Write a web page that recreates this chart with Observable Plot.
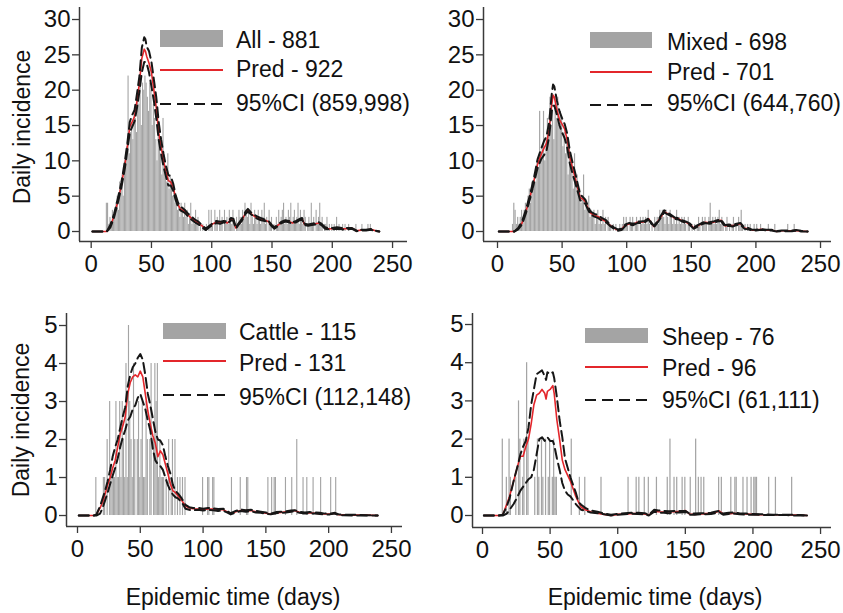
<!DOCTYPE html>
<html>
<head>
<meta charset="utf-8">
<script src="https://cdn.jsdelivr.net/npm/d3@7"></script>
<script src="https://cdn.jsdelivr.net/npm/@observablehq/plot@0.6"></script>
<style>
  body { margin: 0; background: #fff; }
  #chart { position: relative; width: 843px; height: 613px; overflow: hidden; background: #fff;
           font-family: "Liberation Sans", Arial, sans-serif; }
  #chart > svg { position: absolute; left: 0; top: 0; }
</style>
</head>
<body>
<div id="chart"></div>
<script>
// ---------------- DATA ----------------
const xTicks = [0, 50, 100, 150, 200, 250];
const yTicksTop = [0, 5, 10, 15, 20, 25, 30];
const yTicksBottom = [0, 1, 2, 3, 4, 5];

// Observed daily cases (All), starting at day 12
const allBarStart = 12;
const allBars = [
  0,4,4,1,2,1,3,2,3,4,
  5,3,7,6,8,5,10,9,12,22,
  11,14,15,13,17,16,14,20,18,21,
  15,21,20,22,21,19,17,21,20,15,
  18,16,13,10,14,12,11,8,16,10,
  9,7,11,6,8,7,5,6,4,5,
  3,4,2,4,3,2,4,2,3,1,
  2,4,1,2,1,3,1,2,0,1,
  0,1,0,0,1,0,3,1,3,1,
  0,3,1,2,0,3,1,2,0,3,
  1,2,1,3,2,1,3,1,0,2,
  1,3,2,1,3,2,4,3,2,3,
  1,4,2,1,3,2,1,3,2,1,
  3,2,4,1,2,0,3,1,2,0,
  1,0,2,1,3,1,2,3,4,1,
  2,1,3,2,4,1,2,3,1,2,
  4,1,3,2,1,3,2,0,1,2,
  1,4,1,2,0,3,1,2,4,1,
  2,0,1,1,2,0,1,0,1,0,
  1,0,2,0,1,0,0,1,0,1,
  0,0,1,0,0,0,0,0,1,0,
  0,0,0,1,0,0,0,0,1,0,
  1
];

// Observed daily cases (Mixed), starting at day 12
const mixedBarStart = 12;
const mixedBars = [
  1,4,3,1,2,1,2,3,2,3,
  4,3,5,6,4,7,6,8,7,10,
  9,17,11,12,17,10,13,16,14,19,
  15,17,13,18,16,19,15,17,16,12,
  14,11,13,8,12,9,10,6,11,7,
  8,5,6,4,5,8,3,4,3,5,
  2,3,2,3,1,2,3,1,2,1,
  3,1,2,0,2,1,1,0,1,0,
  1,0,0,1,0,1,2,1,2,1,
  0,2,1,2,0,1,2,1,0,2,
  1,2,1,2,1,3,1,0,1,0,
  2,1,2,1,3,2,3,2,1,3,
  2,1,3,2,1,2,1,3,1,2,
  1,2,1,2,1,0,2,1,0,1,
  0,1,0,1,2,1,0,2,1,2,
  1,0,2,4,1,2,1,2,1,2,
  3,1,2,1,0,1,2,0,1,0,
  1,2,0,1,0,2,1,3,1,0,
  1,0,1,0,1,0,0,1,0,1,
  0,0,1,0,0,0,0,0,1,0,
  0,0,0,1,0,0,0,0,0,0,
  0,0,0,1,0,0,0,0,1,0
];

// Observed daily cases (Cattle): days with cases and counts
const cattleDays = [15,21,22,24,26,27,28,29,30,31,32,33,34,35,36,37,38,39,40,41,42,43,44,45,46,48,49,50,
  51,52,53,54,55,56,58,59,61,62,63,64,65,66,67,68,69,71,73,75,76,78,80,82,84,86,
  100,104,105,108,109,123,130,135,136,152,155,157,158,166,171,175,180,183,188,194,202,206];
const cattleCounts = [1,1,1,2,3,1,1,1,1,3,1,1,3,1,3,2,1,4,1,5,3,2,1,4,2,2,3,1,
  2,3,1,1,3,2,2,4,2,4,3,4,1,2,1,1,1,1,2,1,2,2,1,1,1,1,
  1,1,1,1,1,1,1,1,1,1,1,1,1,1,1,2,1,1,1,1,1,1];

// Observed daily cases (Sheep): days with cases and counts
const sheepDays = [15,18,20,21,25,27,28,30,31,33,34,39,41,42,44,45,47,49,50,52,53,54,55,66,72,76,88,
  108,114,116,120,123,129,137,139,142,144,148,150,154,158,160,162,164,175,177,184,187,188,193,196,199,
  201,202,203,212,217,229];
const sheepCounts = [2,1,2,1,1,3,2,1,2,4,2,1,2,1,2,1,2,1,2,1,2,1,1,2,1,1,1,
  1,1,1,1,1,1,1,2,1,1,1,1,1,2,1,1,1,1,1,1,1,1,1,1,1,
  1,1,1,1,1,1];

// Predicted incidence: [day, lower 95% CI, prediction, upper 95% CI]
const allLines = [
  [1,0,0,0],[13,0,0,0],[16,0.6,0.8,1.0],[19,2.0,2.2,2.5],[22,4.0,4.2,4.6],[25,6.2,6.5,6.9],
  [28,9.0,9.5,10.0],[30,11.5,12,12.5],[32,14.0,14.8,15.5],[34,14.8,15.5,16.5],[36,15.6,16.3,17.2],
  [38,17.5,18.5,19.5],[40,19.8,21,22],[42,22.5,24.5,26],[44,24,25.8,27.5],[45,24,25.5,27.2],
  [46,23.8,24.8,26.2],[48,22.5,23.8,25.5],[50,20.5,22.5,24],[52,18.5,20,21.5],[54,16,17.5,19],
  [56,13,14,15.5],[58,11,12,13],[60,9.2,10,11],[62,7.8,8.5,9.3],[64,6.5,7.2,8],[66,6.5,7,7.8],
  [68,5.8,6.3,6.8],[70,4.5,4.8,5.2],[72,3.5,3.8,4.1],[74,3.0,3.2,3.5],[76,2.8,3.0,3.3],[78,2.6,2.8,3.0],
  [80,2.2,2.4,2.6],[83,1.7,1.9,2.1],[86,1.3,1.5,1.7],[89,1.0,1.2,1.4],[92,0.6,0.8,0.9],[95,0.2,0.3,0.4],
  [98,0.6,0.7,0.8],[101,1.0,1.1,1.2],[104,1.2,1.3,1.5],[107,1.1,1.2,1.4],[110,1.3,1.4,1.5],
  [113,1.1,1.2,1.4],[116,1.6,1.7,1.9],[118,1.5,1.6,1.8],[120,0.4,0.5,0.6],[122,0.9,1.0,1.1],
  [125,1.5,1.6,1.8],[128,2.5,2.6,2.8],[130,2.8,3.0,3.2],[132,2.5,2.6,2.8],[135,2.1,2.2,2.4],
  [138,1.8,1.9,2.1],[141,1.6,1.7,1.9],[144,1.5,1.6,1.7],[147,1.3,1.4,1.5],[150,0.7,0.8,0.9],
  [152,0.4,0.5,0.6],[155,0.8,0.9,1.0],[158,1.2,1.3,1.4],[161,1.4,1.5,1.6],[164,1.3,1.4,1.5],
  [167,1.1,1.2,1.3],[170,1.3,1.4,1.5],[173,1.6,1.7,1.8],[175,1.7,1.8,1.9],[177,0.9,1.0,1.1],
  [180,0.8,0.9,1.0],[183,0.9,1.0,1.1],[186,1.0,1.1,1.2],[189,1.1,1.2,1.3],[191,0.9,1.0,1.1],
  [194,0.4,0.5,0.6],[197,0.3,0.4,0.5],[200,0.3,0.4,0.5],[204,0.4,0.5,0.6],[208,0.3,0.4,0.5],
  [212,0.3,0.4,0.5],[216,0.4,0.5,0.5],[220,0.05,0.1,0.15],[224,0.15,0.2,0.25],[228,0.15,0.2,0.25],
  [232,0.25,0.3,0.35],[236,0.05,0.1,0.1],[239,0,0,0]
];
const mixedLines = [
  [1,0,0,0],[13,0,0,0],[16,0.3,0.4,0.5],[19,1.0,1.2,1.4],[22,2.6,2.8,3.1],[25,4.5,4.8,5.1],
  [28,6.7,7,7.4],[31,9.0,9.5,10.2],[34,10.3,11,11.8],[36,10.8,11.8,12.8],[38,11.5,12.5,13.5],
  [40,13.5,14.5,15.5],[42,17,18,19.5],[43,17.8,19.3,20.8],[44,17.8,19,20.5],[46,16.5,17.2,18.5],
  [48,15,15.8,17],[50,14,15.2,16],[52,13.2,14.5,15.2],[54,11.8,12.9,13.8],[56,9.6,10.5,11.4],
  [58,8.2,9,9.8],[60,7,7.7,8.4],[62,5.7,6.2,6.8],[64,4.4,4.8,5.2],[66,4.3,4.6,4.9],[68,3.9,4.2,4.5],
  [70,3.1,3.3,3.6],[72,2.4,2.6,2.8],[75,2.1,2.3,2.5],[78,1.9,2.1,2.3],[81,1.5,1.7,1.9],[84,1.3,1.4,1.6],
  [87,0.8,0.9,1.0],[90,0.4,0.5,0.6],[93,0.1,0.2,0.3],[96,0.2,0.3,0.4],[99,0.8,0.9,1.0],[102,1.0,1.1,1.2],
  [105,0.9,1.0,1.1],[108,1.2,1.3,1.4],[111,1.2,1.3,1.4],[114,1.3,1.4,1.5],[117,1.7,1.8,1.9],
  [119,1.1,1.2,1.3],[121,0.6,0.7,0.8],[124,1.3,1.4,1.5],[127,2.1,2.2,2.4],[129,2.7,2.8,3.0],
  [131,2.5,2.6,2.8],[134,2.2,2.3,2.4],[137,1.8,1.9,2.0],[140,1.7,1.8,1.9],[143,1.4,1.5,1.6],
  [146,1.2,1.3,1.4],[149,0.9,1.0,1.1],[152,0.4,0.5,0.6],[155,0.7,0.8,0.9],[158,1.0,1.1,1.2],
  [161,1.2,1.3,1.4],[164,1.1,1.2,1.3],[167,1.2,1.3,1.4],[170,1.4,1.5,1.6],[173,1.5,1.6,1.7],
  [176,0.7,0.8,0.9],[179,0.8,0.9,1.0],[182,0.7,0.8,0.9],[185,0.9,1.0,1.1],[188,1.0,1.1,1.2],
  [191,0.4,0.5,0.6],[194,0.3,0.4,0.5],[197,0.15,0.2,0.25],[200,0.15,0.2,0.25],[204,0.25,0.3,0.35],
  [208,0.15,0.2,0.25],[212,0.15,0.2,0.25],[216,0,0,0.05],[220,0.05,0.1,0.15],[224,0.05,0.1,0.15],
  [228,0.05,0.1,0.15],[231,0.1,0.15,0.2],[235,0,0.05,0.1],[240,0,0,0]
];
const cattleLines = [
  [1,0,0,0],[13,0,0,0],[15,0,0.02,0.02],[18,0.05,0.2,0.25],[20,0.2,0.35,0.45],[22,0.4,0.57,0.65],
  [24,0.6,0.8,0.9],[26,0.83,1.0,1.2],[28,1.05,1.25,1.55],[30,1.25,1.45,1.8],[32,1.5,1.8,2.0],
  [34,1.8,2.15,2.3],[36,2.05,2.35,2.6],[38,2.25,2.6,2.85],[40,2.5,3.2,3.4],[42,2.6,3.5,3.7],
  [44,2.8,3.65,3.9],[46,2.9,3.7,4.0],[48,3.1,3.65,4.15],[50,3.2,3.8,4.25],[52,3.0,3.65,4.1],
  [54,2.8,3.2,3.7],[56,2.5,2.75,3.2],[58,2.24,2.4,2.9],[60,1.75,2.1,2.55],[62,1.45,1.9,2.2],
  [64,1.35,1.55,2.0],[66,1.3,1.7,1.97],[68,1.2,1.6,1.85],[70,1.0,1.35,1.55],[72,0.8,1.1,1.3],
  [74,0.65,0.83,1.1],[76,0.55,0.65,0.8],[78,0.48,0.6,0.65],[80,0.45,0.52,0.58],[83,0.35,0.4,0.45],
  [86,0.18,0.25,0.28],[89,0.15,0.2,0.22],[92,0.14,0.18,0.2],[96,0.15,0.17,0.2],[100,0.13,0.16,0.18],
  [104,0.15,0.17,0.2],[108,0.14,0.17,0.19],[112,0.12,0.15,0.17],[116,0.13,0.15,0.18],[119,0.08,0.1,0.12],
  [122,0.03,0.05,0.06],[126,0.08,0.1,0.12],[130,0.12,0.13,0.16],[134,0.1,0.13,0.14],[138,0.11,0.13,0.15],
  [142,0.08,0.1,0.12],[146,0.07,0.09,0.1],[150,0.05,0.06,0.08],[154,0.03,0.04,0.05],[158,0.06,0.07,0.09],
  [162,0.07,0.08,0.1],[166,0.08,0.1,0.11],[170,0.1,0.11,0.13],[173,0.11,0.13,0.14],[177,0.07,0.08,0.1],
  [181,0.05,0.07,0.08],[185,0.06,0.07,0.09],[189,0.05,0.06,0.08],[193,0.04,0.05,0.07],[197,0.03,0.04,0.05],
  [201,0.03,0.04,0.05],[205,0.05,0.06,0.07],[208,0.01,0.02,0.03],[212,0.01,0.02,0.02],[220,0,0.01,0.02],
  [230,0,0.01,0.01],[239,0,0,0]
];
const sheepLines = [
  [1,0,0,0],[12,0,0,0],[15,0,0.02,0.02],[18,0.05,0.3,0.25],[20,0.15,0.5,0.45],[23,0.3,0.9,0.9],
  [26,0.5,1.3,1.3],[28,0.65,1.55,1.6],[30,0.75,1.55,1.8],[32,0.85,1.8,1.95],[34,0.95,2.0,2.3],
  [36,1.0,2.4,2.9],[38,1.2,2.9,3.3],[40,1.6,3.15,3.7],[42,2.0,3.2,3.75],[44,2.05,3.3,3.8],
  [46,1.95,3.2,3.65],[47,2.0,3.05,3.55],[48,2.05,3.25,3.75],[50,1.95,3.3,3.7],[52,1.95,3.4,3.75],
  [53,1.85,3.2,3.6],[55,1.5,2.5,3.1],[57,1.2,2.0,2.5],[59,0.85,1.45,2.05],[61,0.65,1.2,1.5],
  [63,0.55,1.05,1.25],[65,0.5,0.9,1.0],[67,0.4,0.7,0.8],[69,0.3,0.5,0.6],[71,0.22,0.35,0.35],
  [73,0.15,0.22,0.28],[76,0.12,0.15,0.2],[80,0.08,0.1,0.13],[85,0.06,0.06,0.1],[90,0.03,0.03,0.05],
  [95,0,0,0.02],[100,0.02,0.03,0.04],[105,0.03,0.04,0.06],[110,0.05,0.05,0.07],[115,0.04,0.05,0.07],
  [120,0.03,0.04,0.06],[123,0,0.01,0.02],[127,0.1,0.12,0.15],[130,0.08,0.1,0.13],[134,0.07,0.09,0.12],
  [138,0.06,0.1,0.11],[142,0.08,0.1,0.12],[146,0.08,0.11,0.12],[150,0.09,0.13,0.12],[153,0.02,0.04,0.05],
  [157,0.02,0.03,0.05],[161,0.03,0.04,0.06],[165,0.03,0.05,0.06],[169,0.04,0.06,0.07],[172,0.06,0.08,0.1],
  [175,0.09,0.12,0.12],[178,0.02,0.04,0.05],[182,0.04,0.05,0.07],[186,0.05,0.06,0.08],[190,0.03,0.04,0.06],
  [195,0.02,0.04,0.05],[200,0.02,0.03,0.04],[205,0.02,0.02,0.03],[210,0.01,0.02,0.03],[215,0.01,0.02,0.02],
  [220,0.01,0.02,0.02],[225,0.01,0.02,0.02],[230,0,0.01,0.02],[235,0,0.01,0.01],[240,0,0,0]
];

// Legend texts
const legendLabels = [
  ["All - 881", "Pred - 922", "95%CI (859,998)"],
  ["Mixed - 698", "Pred - 701", "95%CI (644,760)"],
  ["Cattle - 115", "Pred - 131", "95%CI (112,148)"],
  ["Sheep - 76", "Pred - 96", "95%CI (61,111)"]
];
const yTitle = "Daily incidence";
const xTitle = "Epidemic time (days)";

// ---------------- STYLE / LAYOUT ----------------
const W = 843, H = 613;
const FONT = '"Liberation Sans", Arial, Helvetica, sans-serif';
const BAR = "#a4a4a4", RED = "#e3262b", INK = "#161616", AXIS = "#3a3a3a";

function fromStart(start, arr) { return arr.map((n, i) => ({day: start + i, n})); }
function fromSparse(days, counts) { return days.map((d, i) => ({day: d, n: counts[i]})); }
function rows(lines) { return lines.map(([day, lo, pr, hi]) => ({day, lo, pr, hi})); }

const panels = [
  {bars: fromStart(allBarStart, allBars), lines: rows(allLines),
   frame: {left: 79, right: 407, top: 7, bottom: 241}, x: [-9.7, 262.4], y: [-1.415, 31.7], yTicks: yTicksTop},
  {bars: fromStart(mixedBarStart, mixedBars), lines: rows(mixedLines),
   frame: {left: 483, right: 831, top: 7, bottom: 241}, x: [-10.84, 258.5], y: [-1.415, 31.7], yTicks: yTicksTop},
  {bars: fromSparse(cattleDays, cattleCounts), lines: rows(cattleLines),
   frame: {left: 66, right: 402, top: 313, bottom: 526}, x: [-8.76, 258.8], y: [-0.289, 5.316], yTicks: yTicksBottom},
  {bars: fromSparse(sheepDays, sheepCounts), lines: rows(sheepLines),
   frame: {left: 472, right: 831, top: 313, bottom: 527}, x: [-7.4, 258.1], y: [-0.314, 5.288], yTicks: yTicksBottom}
];

const chart = document.getElementById("chart");

for (const p of panels) {
  const bars = p.bars.filter(d => d.n > 0);
  const svg = Plot.plot({
    width: W, height: H,
    marginLeft: p.frame.left, marginRight: W - p.frame.right,
    marginTop: p.frame.top, marginBottom: H - p.frame.bottom,
    x: {domain: p.x},
    y: {domain: p.y},
    style: {background: "transparent", fontFamily: FONT, fontSize: "24px", color: "#111", overflow: "visible"},
    marks: [
      Plot.rect(bars, {x1: d => d.day - 0.45, x2: d => d.day + 0.45, y1: 0, y2: "n", fill: BAR}),
      Plot.line(p.lines, {x: "day", y: "pr", stroke: RED, strokeWidth: 1.6}),
      Plot.line(p.lines, {x: "day", y: "lo", stroke: INK, strokeWidth: 2, strokeDasharray: "10,5"}),
      Plot.line(p.lines, {x: "day", y: "hi", stroke: INK, strokeWidth: 2, strokeDasharray: "10,5"}),
      Plot.ruleX([p.x[0]], {stroke: AXIS, strokeWidth: 1.5}),
      Plot.ruleY([p.y[0]], {stroke: AXIS, strokeWidth: 1.5}),
      Plot.axisX({ticks: xTicks, tickSize: 7, tickPadding: 6, label: null, stroke: AXIS, strokeWidth: 1.3,
                  fontSize: 24, tickFormat: d3.format("d")}),
      Plot.axisY({ticks: p.yTicks, tickSize: 7, tickPadding: 2, label: null, stroke: AXIS, strokeWidth: 1.3,
                  fontSize: 24, tickFormat: d3.format("d")})
    ]
  });
  chart.appendChild(svg);
}

// ---------------- LEGENDS & TITLES (overlay) ----------------
const legendBoxes = [
  {sx: 160, sw: 63, rectY: 30, rectH: 17, redY: 70, dashY: 104, tx: 236, ty: [40, 69, 103]},
  {sx: 590, sw: 62, rectY: 32, rectH: 16, redY: 72, dashY: 105, tx: 667, ty: [42, 72, 103]},
  {sx: 163, sw: 63, rectY: 323, rectH: 16, redY: 361, dashY: 395, tx: 239, ty: [332, 363, 397]},
  {sx: 585, sw: 63, rectY: 328, rectH: 15, redY: 367, dashY: 400, tx: 662, ty: [337, 368, 400]}
];

const ov = d3.select(chart).append("svg")
  .attr("width", W).attr("height", H)
  .style("font-family", FONT);

legendBoxes.forEach((b, i) => {
  const g = ov.append("g");
  g.append("rect").attr("x", b.sx).attr("y", b.rectY).attr("width", b.sw).attr("height", b.rectH).attr("fill", BAR);
  g.append("line").attr("x1", b.sx).attr("x2", b.sx + b.sw).attr("y1", b.redY).attr("y2", b.redY)
    .attr("stroke", RED).attr("stroke-width", 1.8);
  g.append("line").attr("x1", b.sx).attr("x2", b.sx + b.sw).attr("y1", b.dashY).attr("y2", b.dashY)
    .attr("stroke", INK).attr("stroke-width", 2).attr("stroke-dasharray", "11,6");
  legendLabels[i].forEach((t, k) => {
    g.append("text").attr("x", b.tx).attr("y", b.ty[k]).attr("dy", "0.36em")
      .attr("font-size", 23).attr("fill", "#111").text(t);
  });
});

[[22, 127], [21, 420]].forEach(([x, y]) => {
  ov.append("text").attr("transform", `translate(${x},${y}) rotate(-90)`)
    .attr("text-anchor", "middle").attr("dy", "0.36em")
    .attr("font-size", 23).attr("fill", "#111").text(yTitle);
});
[[233, 597], [655, 597]].forEach(([x, y]) => {
  ov.append("text").attr("x", x).attr("y", y).attr("text-anchor", "middle").attr("dy", "0.36em")
    .attr("font-size", 23).attr("fill", "#111").text(xTitle);
});
</script>
</body>
</html>
